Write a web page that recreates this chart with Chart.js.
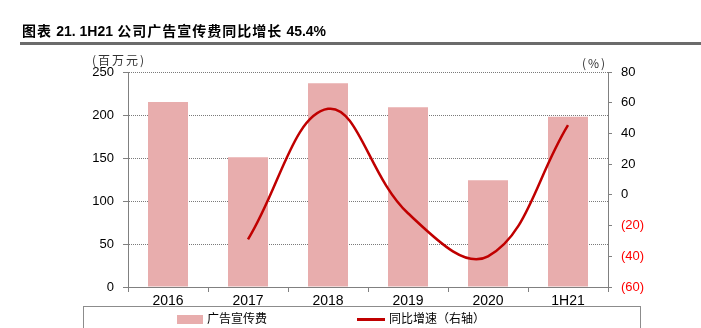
<!DOCTYPE html>
<html>
<head>
<meta charset="utf-8">
<script src="https://cdn.jsdelivr.net/npm/chart.js@4.4.1/dist/chart.umd.min.js"></script>
<style>
	body { margin: 0; background: #fff; }
	#wrap { position: relative; width: 701px; height: 328px; overflow: hidden; font-family: "Noto Sans CJK SC", sans-serif; }
	#chart { position: absolute; left: 0; top: 0; }
	.title { position: absolute; left: 22px; top: 20px; font-size: 14px; font-weight: bold; color: #000; white-space: nowrap; letter-spacing: 1px; }
	.title .num { font-family: "Liberation Sans", Arial, sans-serif; letter-spacing: 0; }
	.rule { position: absolute; left: 20px; right: 0; top: 42px; height: 3px; background: #6b6b6b; }
	.unit { position: absolute; font-size: 12px; color: #333; white-space: nowrap; letter-spacing: 2px; }
	.legend { position: absolute; left: 83px; top: 306px; width: 556px; height: 40px; border: 1px solid #8c8c8c; }
	.item { position: absolute; top: 2px; font-size: 12px; color: #000; white-space: nowrap; line-height: 18px; }
	.swatch { display: inline-block; vertical-align: middle; margin-right: 4px; }
</style>
</head>
<body>
<div id="wrap">
	<canvas id="chart" width="701" height="328"></canvas>
	<div class="title">图表 <span class="num">21. 1H21</span> 公司广告宣传费同比增长 <span class="num">45.4%</span></div>
	<div class="rule"></div>
	<div class="unit" style="left:92px; top:51px;">(百万元)</div>
	<div class="unit" style="left:582px; top:54px;">(%)</div>
	<div class="legend">
		<div class="item" style="left:93px;"><span class="swatch" style="width:26px; height:9px; background:#e8adad;"></span>广告宣传费</div>
		<div class="item" style="left:273px;"><span class="swatch" style="width:28px; height:3px; background:#c00000;"></span>同比增速（右轴）</div>
	</div>
</div>
<script>
	"use strict";

	// chart values
	var categories = ["2016", "2017", "2018", "2019", "2020", "1H21"];
	var adSpend = [215, 151, 237, 209, 124, 198];          // 百万元, left axis
	var yoyGrowth = [null, -29, 56, -12, -40, 45.4];       // %, right axis
	var leftTicks = { min : 0, max : 250, step : 50 };
	var rightTicks = { min : -60, max : 80, step : 20 };

	var tickFont = "'Liberation Sans Narrow', 'Liberation Sans', Arial, sans-serif";
	var axisGrey = "#808080";

	var ctx = document.getElementById("chart");

	var chartData = {
		labels : categories,
		datasets : [
			{
				type : "line",
				label : "同比增速（右轴）",
				data : yoyGrowth,
				yAxisID : "yRight",
				borderColor : "#c00000",
				borderWidth : 2.5,
				pointRadius : 0,
				tension : 0.4,
				fill : false,
				order : 0
			},
			{
				type : "bar",
				label : "广告宣传费",
				data : adSpend,
				yAxisID : "yLeft",
				backgroundColor : "#e8adad",
				categoryPercentage : 1,
				barPercentage : 0.5,
				order : 1
			}
		]
	};

	var chartOptions = {
		responsive : false,
		animation : false,
		devicePixelRatio : 1,
		layout : { padding : { top : 72, left : 0, right : 0, bottom : 0 } },
		plugins : {
			legend : { display : false },
			tooltip : { enabled : false }
		},
		scales : {
			x : {
				offset : true,
				grid : { offset : true, drawOnChartArea : false, tickLength : 5, color : axisGrey },
				border : { color : axisGrey },
				ticks : { color : "#000", padding : 1, font : { family : tickFont, size : 14 } },
				afterFit : function(scale) { scale.height = 41; }
			},
			yLeft : {
				position : "left",
				min : leftTicks.min,
				max : leftTicks.max,
				grid : { color : "#7a7a7a", tickColor : axisGrey, tickLength : 5 },
				border : { color : axisGrey, dash : [1, 1] },
				ticks : { stepSize : leftTicks.step, color : "#000", padding : 9, font : { family : tickFont, size : 13 } },
				afterFit : function(scale) { scale.width = 128; }
			},
			yRight : {
				position : "right",
				min : rightTicks.min,
				max : rightTicks.max,
				grid : { drawOnChartArea : false, color : axisGrey, tickLength : 4 },
				border : { color : axisGrey },
				ticks : {
					stepSize : rightTicks.step,
					padding : 9,
					font : { family : tickFont, size : 13 },
					color : function(c) { return c.tick && c.tick.value < 0 ? "#ff0000" : "#000"; },
					callback : function(v) { return v < 0 ? "(" + (-v) + ")" : v; }
				},
				afterFit : function(scale) { scale.width = 93; }
			}
		}
	};

	var growthChart = new Chart(ctx, {
		type : "bar",
		data : chartData,
		options : chartOptions
	});
</script>
</body>
</html>
